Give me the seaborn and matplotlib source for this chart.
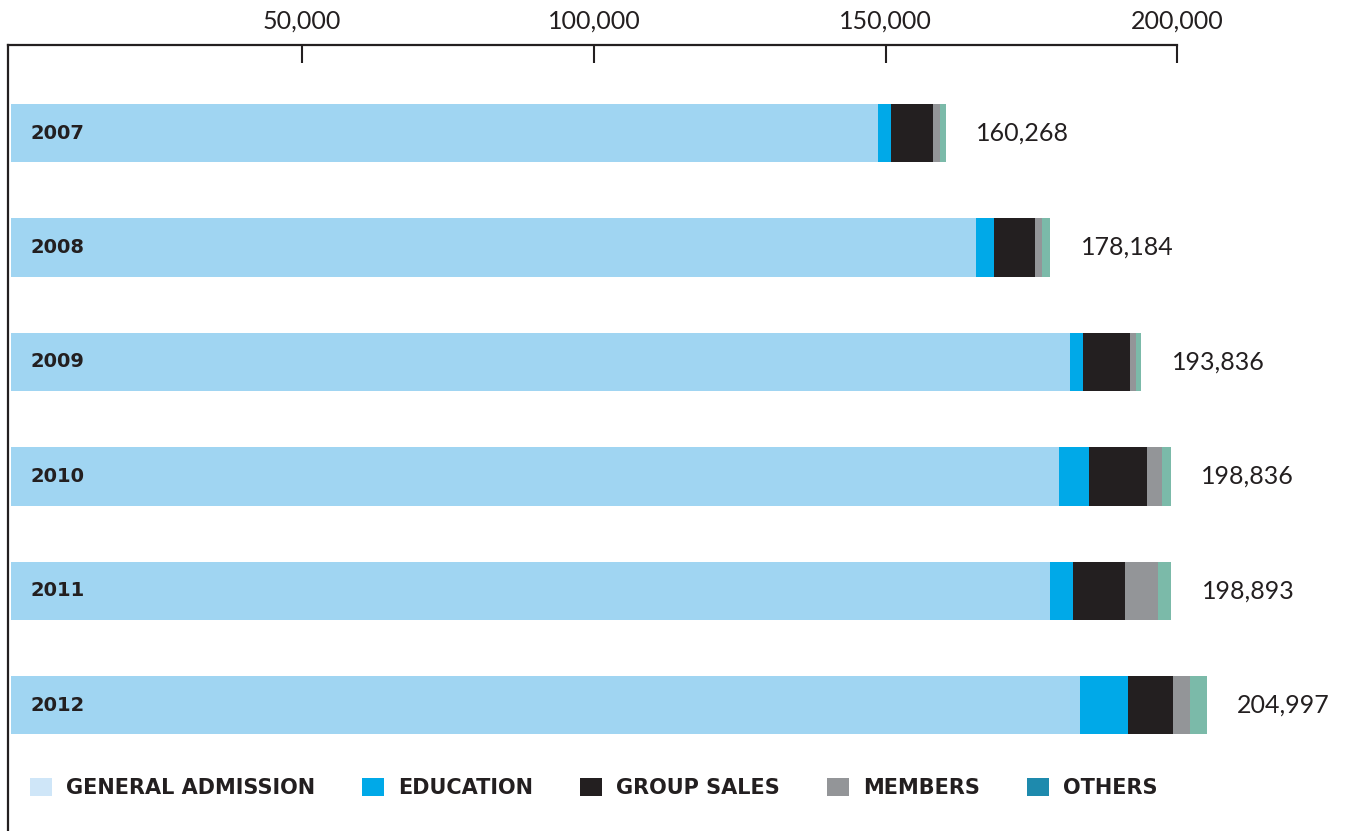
import matplotlib
matplotlib.use("Agg")
import matplotlib.pyplot as plt
from matplotlib.patches import Patch
import numpy as np
import pandas as pd
import seaborn as sns

# Attendance by year and source
years = ["2007", "2008", "2009", "2010", "2011", "2012"]
general_admission = [148668, 165484, 181636, 179636, 178193, 183297]
education = [2200, 3100, 2200, 5300, 3900, 8200]
group_sales = [7200, 7000, 8000, 9800, 8900, 7700]
members = [1200, 1200, 1000, 2700, 5700, 2900]
others = [1000, 1400, 1000, 1400, 2200, 2900]

categories = ["GENERAL ADMISSION", "EDUCATION", "GROUP SALES", "MEMBERS", "OTHERS"]
tick_values = [50000, 100000, 150000, 200000]

bar_colors = ["#a0d5f2", "#00a9e8", "#231f20", "#939598", "#7bbaa9"]
legend_colors = ["#cfe6f8", "#00a9e8", "#231f20", "#939598", "#1e8aad"]
ink = "#231f20"

sns.set_theme(style="white")
plt.rcParams["font.family"] = ["Lato", "DejaVu Sans"]
bold_family = ["DejaVu Sans"]

series = [general_admission, education, group_sales, members, others]
df = pd.DataFrame({"year": years})
cum = np.zeros(len(years))
for name, vals in zip(categories, series):
    cum = cum + np.array(vals)
    df[name] = cum
totals = df[categories[-1]].astype(int).tolist()

fig = plt.figure(figsize=(13.46, 8.31), dpi=100)
ax = fig.add_axes([8 / 1346, 0, 1 - 8 / 1346, 1 - 45 / 831])

# Stacked bars: draw cumulative totals from outermost segment inward
for name, color in reversed(list(zip(categories, bar_colors))):
    sns.barplot(data=df, x=name, y="year", orient="h", color=color,
                saturation=1, width=0.51, errorbar=None, ax=ax,
                linewidth=0)

ax.bar_label(ax.containers[0], labels=[f"{t:,}" for t in totals],
             padding=22, fontsize=18, color=ink)

for i, yr in enumerate(years):
    ax.text(3400, i, yr, ha="left", va="center", fontsize=14,
            fontweight="bold", color=ink, family=bold_family)

ax.set_xlim(-430, 228900)
ax.set_ylim(6.10, -0.77)
ax.set_xlabel("")
ax.set_ylabel("")

ax.xaxis.tick_top()
ax.set_xticks(tick_values)
ax.set_xticklabels([f"{v:,}" for v in tick_values])
ax.tick_params(axis="x", direction="in", length=13, width=1.5, color=ink,
               labelsize=18, labelcolor=ink, pad=9)
ax.set_yticks([])

for side in ["right", "bottom"]:
    ax.spines[side].set_visible(False)
for side in ["top", "left"]:
    ax.spines[side].set_color(ink)
    ax.spines[side].set_linewidth(1.6)
ax.spines["top"].set_bounds(-430, 200000)

handles = [Patch(facecolor=c, edgecolor="none") for c in legend_colors]
leg = fig.legend(handles, categories, loc="center left",
                 bbox_to_anchor=(30 / 1346, 1 - 788 / 831), ncol=5,
                 frameon=False, borderpad=0, borderaxespad=0,
                 handlelength=1.06, handleheight=0.96, handletextpad=0.67,
                 columnspacing=2.26,
                 prop={"size": 15, "weight": "bold", "family": bold_family})
for t in leg.get_texts():
    t.set_color(ink)

fig.savefig("out.png", dpi=100, facecolor="white")
